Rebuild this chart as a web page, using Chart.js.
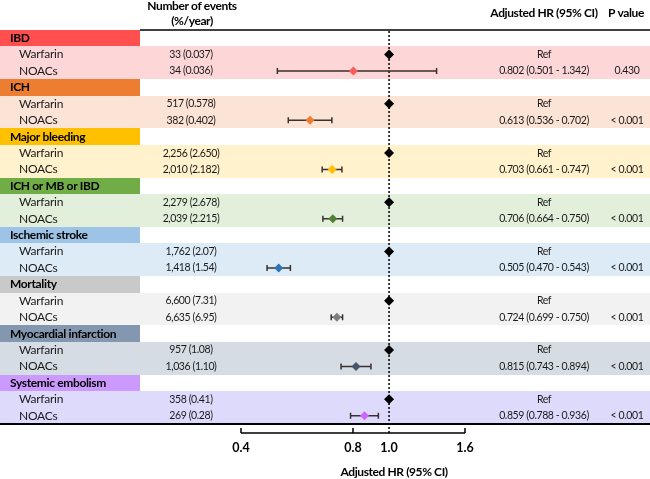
<!DOCTYPE html>
<html>
<head>
<meta charset="utf-8">
<script src="https://cdn.jsdelivr.net/npm/chart.js@4"></script>
<style>
  html, body { margin: 0; padding: 0; background: #fff; }
  #wrap { width: 650px; height: 479px; position: relative; }
</style>
</head>
<body>
<div id="wrap"><canvas id="forest"></canvas></div>
<script>
// Données
let categories = ['IBD', 'ICH', 'Major bleeding', 'ICH or MB or IBD', 'Ischemic stroke', 'Mortality', 'Myocardial infarction', 'Systemic embolism'];
let groupLabels = ['Warfarin', 'NOACs'];
let warfarinEvents = ['33 (0.037)', '517 (0.578)', '2,256 (2.650)', '2,279 (2.678)', '1,762 (2.07)', '6,600 (7.31)', '957 (1.08)', '358 (0.41)'];
let noacEvents = ['34 (0.036)', '382 (0.402)', '2,010 (2.182)', '2,039 (2.215)', '1,418 (1.54)', '6,635 (6.95)', '1,036 (1.10)', '269 (0.28)'];
let hrValues = [0.802, 0.613, 0.703, 0.706, 0.505, 0.724, 0.815, 0.859];
let ciLow = [0.501, 0.536, 0.661, 0.664, 0.470, 0.699, 0.743, 0.788];
let ciHigh = [1.342, 0.702, 0.747, 0.750, 0.543, 0.750, 0.894, 0.936];
let pValues = ['0.430', '< 0.001', '< 0.001', '< 0.001', '< 0.001', '< 0.001', '< 0.001', '< 0.001'];
let refHR = 1.0;
let axisTicks = [0.4, 0.8, 1.0, 1.6];

// Couleurs
let headerColors = ['#FF4F4F', '#ED7D31', '#FFC000', '#70AD47', '#9DC3E6', '#C9C9C9', '#8497B0', '#CC99FF'];
let lightColors = ['#FDD7D7', '#FBE3D6', '#FFF2CC', '#E2EFDA', '#DDEBF7', '#F2F2F2', '#D6DCE4', '#DEDAFC'];
let markerColors = ['#FF5B5B', '#ED7D31', '#FFC000', '#548235', '#2E75B6', '#7F7F7F', '#44546A', '#CC66FF'];

let FONT = 'Lato, "Open Sans", sans-serif';
let nRows = categories.length * 3;

let refPoints = categories.map(function(c, g) { return { x: refHR, y: g * 3 + 1.5 }; });
let noacPoints = categories.map(function(c, g) { return { x: hrValues[g], y: g * 3 + 2.5 }; });

function fmt(v) { return v.toFixed(3); }

function setFont(ctx, spec, spacing) {
    ctx.font = spec + ' ' + FONT;
    ctx.letterSpacing = spacing;
}

const tablePlugin = {
    id: 'table',
    beforeDatasetsDraw(chart) {
        let ctx = chart.ctx;
        let xs = chart.scales.x;
        let ys = chart.scales.y;
        let W = chart.width;
        ctx.save();

        // fonds des lignes
        categories.forEach(function(cat, g) {
            let r = g * 3;
            let t0 = Math.round(ys.getPixelForValue(r));
            let t1 = Math.round(ys.getPixelForValue(r + 1));
            let t3 = Math.round(ys.getPixelForValue(r + 3));
            ctx.fillStyle = headerColors[g];
            ctx.fillRect(0, t0, 140, t1 - t0);
            ctx.fillStyle = lightColors[g];
            ctx.fillRect(0, t1, W, t3 - t1);
        });

        // textes
        ctx.textBaseline = 'middle';
        categories.forEach(function(cat, g) {
            let r = g * 3;
            let yH = ys.getPixelForValue(r + 0.5);
            let yW = ys.getPixelForValue(r + 1.5);
            let yN = ys.getPixelForValue(r + 2.5);
            ctx.fillStyle = '#000';
            ctx.textAlign = 'left';
            setFont(ctx, 'bold 12px', '-0.35px');
            ctx.fillText(cat, 10, yH);
            ctx.fillStyle = '#1a1a1a';
            setFont(ctx, '12px', '-0.25px');
            ctx.fillText(groupLabels[0], 19, yW);
            ctx.fillText(groupLabels[1], 19, yN);
            setFont(ctx, '10.5px', '-0.4px');
            ctx.textAlign = 'center';
            ctx.fillText(warfarinEvents[g], 191, yW);
            ctx.fillText(noacEvents[g], 191, yN);
            ctx.fillText('Ref', 544, yW);
            ctx.fillText(fmt(hrValues[g]) + ' (' + fmt(ciLow[g]) + ' - ' + fmt(ciHigh[g]) + ')', 544, yN);
            ctx.fillText(pValues[g], 627, yN);
        });

        // en-têtes
        ctx.fillStyle = '#000';
        setFont(ctx, 'bold 12px', '-0.4px');
        ctx.textAlign = 'center';
        ctx.fillText('Number of events', 192, 6);
        ctx.fillText('(%/year)', 192, 21);
        ctx.fillText('Adjusted HR (95% CI)', 544, 13);
        ctx.fillText('P value', 626, 13);

        // lignes horizontales
        let top = ys.getPixelForValue(0);
        let bottom = ys.getPixelForValue(nRows);
        ctx.strokeStyle = '#000';
        ctx.lineWidth = 1.5;
        ctx.beginPath();
        ctx.moveTo(140, top);
        ctx.lineTo(W, top);
        ctx.stroke();
        ctx.lineWidth = 2;
        ctx.beginPath();
        ctx.moveTo(0, bottom);
        ctx.lineTo(W, bottom);
        ctx.stroke();

        // ligne pointillée à HR = 1
        let x1 = xs.getPixelForValue(refHR);
        ctx.lineWidth = 1.5;
        ctx.setLineDash([2, 2]);
        ctx.beginPath();
        ctx.moveTo(x1, top + 1);
        ctx.lineTo(x1, chart.chartArea.bottom);
        ctx.stroke();
        ctx.setLineDash([]);

        // intervalles de confiance
        ctx.strokeStyle = '#3a3030';
        ctx.lineWidth = 1.5;
        categories.forEach(function(cat, g) {
            let y = ys.getPixelForValue(g * 3 + 2.5);
            let a = xs.getPixelForValue(ciLow[g]);
            let b = xs.getPixelForValue(ciHigh[g]);
            ctx.beginPath();
            ctx.moveTo(a, y);
            ctx.lineTo(b, y);
            ctx.moveTo(a, y - 3);
            ctx.lineTo(a, y + 3);
            ctx.moveTo(b, y - 3);
            ctx.lineTo(b, y + 3);
            ctx.stroke();
        });
        ctx.restore();
    },
    afterDraw(chart) {
        let ctx = chart.ctx;
        let xs = chart.scales.x;
        let yAxis = chart.chartArea.bottom;
        ctx.save();
        ctx.strokeStyle = '#000';
        ctx.lineWidth = 1.5;
        ctx.beginPath();
        ctx.moveTo(xs.getPixelForValue(axisTicks[0]), yAxis);
        ctx.lineTo(xs.getPixelForValue(axisTicks[axisTicks.length - 1]), yAxis);
        axisTicks.forEach(function(v) {
            if (v === refHR) return;
            let x = xs.getPixelForValue(v);
            ctx.moveTo(x, yAxis);
            ctx.lineTo(x, yAxis - 5);
        });
        ctx.stroke();
        ctx.fillStyle = '#000';
        setFont(ctx, 'bold 12.5px', '0px');
        ctx.textAlign = 'center';
        ctx.textBaseline = 'middle';
        axisTicks.forEach(function(v) {
            ctx.fillText(v.toFixed(1), xs.getPixelForValue(v), yAxis + 15);
        });
        setFont(ctx, 'bold 12px', '-0.4px');
        ctx.fillText('Adjusted HR (95% CI)', xs.getPixelForValue(refHR) + 5, yAxis + 39);
        ctx.restore();
    }
};

let ctx = document.getElementById('forest').getContext('2d');
let forestChart = new Chart(ctx, {
    type: 'scatter',
    data: {
        datasets: [{
            label: 'Warfarin',
            data: refPoints,
            pointStyle: 'rectRot',
            pointRadius: 5,
            backgroundColor: '#000',
            borderColor: '#000',
            borderWidth: 0,
            clip: false
        }, {
            label: 'NOACs',
            data: noacPoints,
            pointStyle: 'rectRot',
            pointRadius: 4.5,
            backgroundColor: markerColors,
            borderColor: markerColors,
            borderWidth: 0,
            clip: false
        }]
    },
    options: {
        responsive: true,
        maintainAspectRatio: false,
        animation: false,
        layout: { padding: { left: 241, right: 185, top: 30, bottom: 46 } },
        plugins: { legend: { display: false }, tooltip: { enabled: false } },
        scales: {
            x: { type: 'logarithmic', min: 0.4, max: 1.6, display: false },
            y: { type: 'linear', min: 0, max: nRows + 0.55, reverse: true, display: false }
        }
    },
    plugins: [tablePlugin]
});
</script>
</body>
</html>
